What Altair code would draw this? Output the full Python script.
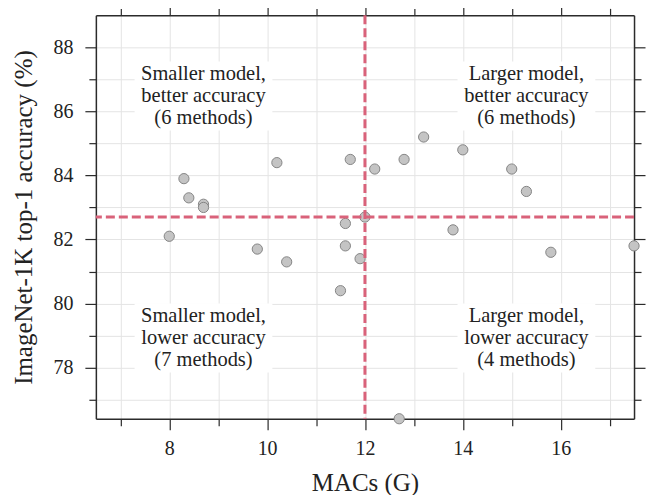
import altair as alt
import pandas as pd

# data
macs = [8.3, 8.4, 8.7, 8.7, 10.2, 11.7,
        12.2, 12.8, 13.2, 14.0, 15.0, 15.3,
        8.0, 9.8, 10.4, 11.6, 11.6, 11.9, 11.5,
        13.8, 17.5, 15.8, 12.7,
        12.0]
acc = [83.9, 83.3, 83.1, 83.0, 84.4, 84.5,
       84.2, 84.5, 85.2, 84.8, 84.2, 83.5,
       82.1, 81.7, 81.3, 82.5, 81.8, 81.4, 80.4,
       82.3, 81.8, 81.6, 76.4,
       82.7]

ref_macs = 12.0
ref_acc = 82.7

x_domain = [6.5, 17.5]
y_domain = [76.4, 89.0]
x_ticks = list(range(7, 18))
y_ticks = list(range(77, 89))

note_text = [
    "Smaller model,\nbetter accuracy\n(6 methods)",
    "Larger model,\nbetter accuracy\n(6 methods)",
    "Smaller model,\nlower accuracy\n(7 methods)",
    "Larger model,\nlower accuracy\n(4 methods)",
]
note_x = [8.7, 15.3, 8.7, 15.3]
note_y = [86.48, 86.48, 78.92, 78.92]

pts = pd.DataFrame({"macs": macs, "acc": acc})
notes = pd.DataFrame({"macs": note_x, "acc": note_y, "text": note_text})
vline = pd.DataFrame({"macs": [ref_macs]})
hline = pd.DataFrame({"acc": [ref_acc]})

FONT = "Liberation Serif"
INK = "#2b2b2b"
tick_size = {"condition": {"test": "datum.value % 2 == 0", "value": 11}, "value": 7}
label_expr = "datum.value % 2 == 0 ? datum.label : ''"

xs = alt.Scale(domain=x_domain, nice=False, zero=False)
ys = alt.Scale(domain=y_domain, nice=False, zero=False)

common_axis = dict(
    domainColor=INK, domainWidth=1.5, tickColor=INK, tickWidth=1.2,
    labelFont=FONT, labelFontSize=20, labelColor="#222", titleFont=FONT,
    titleFontSize=25, titleColor="#222", titleFontWeight="normal",
    gridColor="#e4e4e4", gridWidth=1,
)

def ax(vals, **kw):
    d = dict(common_axis)
    d["values"] = vals
    d.update(kw)
    return alt.Axis(**d)

x_bottom = ax(x_ticks, orient="bottom", title="MACs (G)", grid=True, tickSize=tick_size,
              labelExpr=label_expr, labelPadding=9, titlePadding=12)
y_left = ax(y_ticks, orient="left", title="ImageNet-1K top-1 accuracy (%)", grid=True,
            tickSize=tick_size, labelExpr=label_expr, labelPadding=12, titlePadding=16)
x_top = ax(x_ticks, orient="top", title=None, grid=False, tickSize=tick_size, labels=False)
y_right = ax(y_ticks, orient="right", title=None, grid=False, tickSize=tick_size, labels=False)

frame = alt.Chart(notes).mark_point(
    shape="M-1,-0.5H1V0.5H-1Z", filled=True, color="white", opacity=1, size=138 * 138
).encode(
    x=alt.X("macs:Q", scale=xs, axis=x_top),
    y=alt.Y("acc:Q", scale=ys, axis=y_right),
)

points = alt.Chart(pts).mark_circle(
    size=105, color="#c4c4c4", opacity=1, stroke="#858585", strokeWidth=1
).encode(
    x=alt.X("macs:Q", scale=xs, axis=x_bottom),
    y=alt.Y("acc:Q", scale=ys, axis=y_left),
)

rule_style = dict(color="#d9627a", strokeWidth=3, strokeDash=[9, 4])
v_rule = alt.Chart(vline).mark_rule(**rule_style).encode(
    x=alt.X("macs:Q", scale=xs, axis=None))
h_rule = alt.Chart(hline).mark_rule(**rule_style).encode(
    y=alt.Y("acc:Q", scale=ys, axis=None))

labels = alt.Chart(notes).mark_text(
    font=FONT, fontSize=20.5, color="#222", lineBreak="\n", lineHeight=22,
    align="center", baseline="middle", dy=-22
).encode(
    x=alt.X("macs:Q", scale=xs, axis=None),
    y=alt.Y("acc:Q", scale=ys, axis=None),
    text="text:N",
)

chart = alt.layer(frame, points, v_rule, h_rule, labels).resolve_axis(
    x="independent", y="independent"
).properties(
    width=539, height=404,
    autosize=alt.AutoSizeParams(type="none"),
    padding={"left": 88, "top": 7, "right": 20, "bottom": 80},
).configure_view(stroke=None)

chart.save("out.html", embed_options={"renderer": "svg", "actions": False})
